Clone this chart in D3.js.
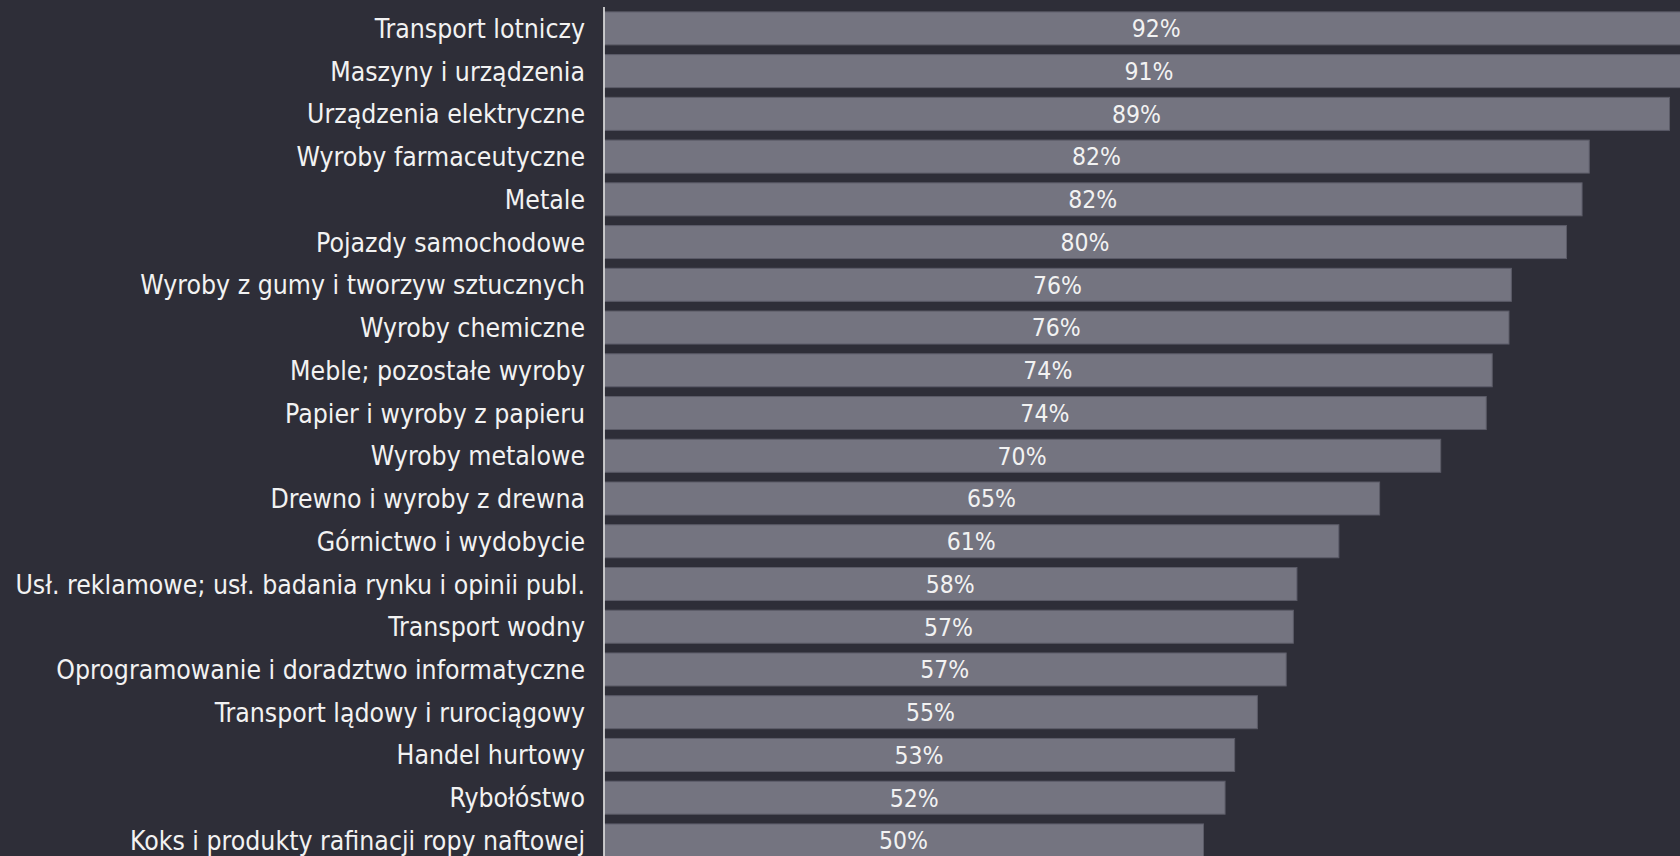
<!DOCTYPE html>
<html><head><meta charset="utf-8">
<script src="https://cdn.jsdelivr.net/npm/d3@7"></script>
<style>
html,body{margin:0;padding:0;background:#2e2e38;overflow:hidden;}
svg{display:block;}
</style></head>
<body>
<svg id="chart" width="1680" height="856"></svg>
<script>
const categories = [
  "Transport lotniczy",
  "Maszyny i urządzenia",
  "Urządzenia elektryczne",
  "Wyroby farmaceutyczne",
  "Metale",
  "Pojazdy samochodowe",
  "Wyroby z gumy i tworzyw sztucznych",
  "Wyroby chemiczne",
  "Meble; pozostałe wyroby",
  "Papier i wyroby z papieru",
  "Wyroby metalowe",
  "Drewno i wyroby z drewna",
  "Górnictwo i wydobycie",
  "Usł. reklamowe; usł. badania rynku i opinii publ.",
  "Transport wodny",
  "Oprogramowanie i doradztwo informatyczne",
  "Transport lądowy i rurociągowy",
  "Handel hurtowy",
  "Rybołóstwo",
  "Koks i produkty rafinacji ropy naftowej"
];
const values = [92.2, 91.0, 88.9, 82.2, 81.6, 80.3, 75.7, 75.5, 74.1, 73.6, 69.8, 64.7, 61.3, 57.8, 57.5, 56.9, 54.5, 52.6, 51.8, 50.0];
const valueLabels = ["92%","91%","89%","82%","82%","80%","76%","76%","74%","74%","70%","65%","61%","58%","57%","57%","55%","53%","52%","50%"];

const svg = d3.select("#chart");
const x0 = 604;
const x = d3.scaleLinear().domain([0, 100]).range([x0, x0 + 1198]);
const y = d3.scaleBand().domain(categories).range([7, 7 + 20 * 42.74]).paddingInner(0.228).paddingOuter(0.114);

const font = "'DejaVu Sans Condensed', 'DejaVu Sans', sans-serif";

svg.append("g").selectAll("rect").data(categories).join("rect")
  .attr("x", x0 + 0.5)
  .attr("y", d => y(d))
  .attr("width", (d, i) => x(values[i]) - x0)
  .attr("height", y.bandwidth())
  .attr("fill", "#747480")
  .attr("stroke", "#5c5c68")
  .attr("stroke-width", 1);

svg.append("g").selectAll("text").data(categories).join("text")
  .attr("x", (d, i) => (x0 + x(values[i])) / 2)
  .attr("y", d => y(d) + y.bandwidth() / 2)
  .attr("dy", "0.36em")
  .attr("text-anchor", "middle")
  .attr("fill", "#f2f2f2")
  .style("font-family", font)
  .style("font-size", "24.5px")
  .text((d, i) => valueLabels[i]);

const yAxis = d3.axisLeft(y).tickSize(0).tickPadding(19);
const ga = svg.append("g").attr("transform", `translate(${x0},0)`).call(yAxis);
ga.select(".domain").remove();
ga.selectAll("text")
  .attr("fill", "#f2f2f2")
  .style("font-family", font)
  .style("font-size", "26.4px");
ga.selectAll("text").attr("dy", "0.36em");

svg.append("line")
  .attr("x1", x0).attr("x2", x0)
  .attr("y1", 7).attr("y2", 870)
  .attr("stroke", "#e6e6e6")
  .attr("stroke-width", 1.6);
</script>
</body></html>
